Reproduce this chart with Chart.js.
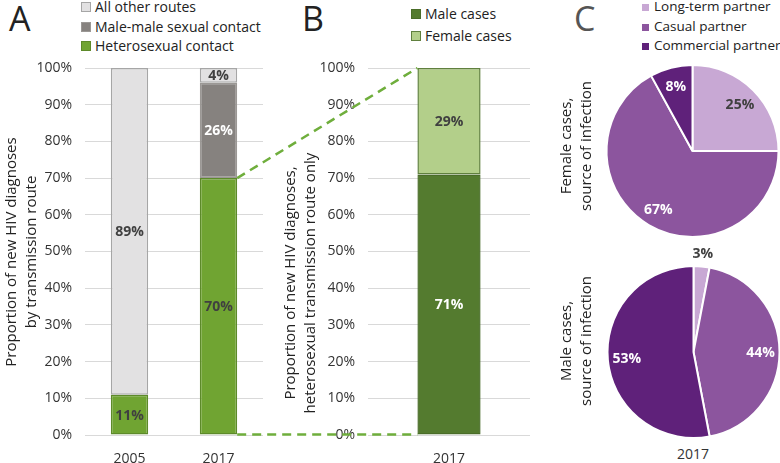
<!DOCTYPE html>
<html>
<head>
<meta charset="utf-8">
<script src="https://cdn.jsdelivr.net/npm/chart.js@4.4.1/dist/chart.umd.min.js"></script>
<style>
  body { margin: 0; width: 780px; height: 463px; position: relative; overflow: hidden; background: #fff; font-family: "Open Sans", sans-serif; color: #222; }
  canvas { position: absolute; }
  .letter { position: absolute; font-size: 34px; line-height: 34px; }
  .legend { position: absolute; font-size: 14px; }
  .legend div { white-space: nowrap; }
  .legend .box { display: inline-block; width: 8px; height: 8px; margin-right: 4px; border: 1px solid; vertical-align: 0px; }
  #legendC { font-size: 13.5px; }
  #legendC .box { width: 7px; height: 7px; border: none; margin-right: 5px; }
  .caption { position: absolute; font-size: 14px; color: #333; width: 60px; text-align: center; }
</style>
</head>
<body>
<div class="letter" style="left:9px; top:1px;">A</div>
<div class="letter" style="left:302px; top:1px;">B</div>
<div class="letter" style="left:574px; top:1px; color:#555;">C</div>
<div class="legend" id="legendA" style="left:81px; top:-3px; line-height:19.5px;"></div>
<div class="legend" id="legendB" style="left:411px; top:3px; line-height:22px;"></div>
<div class="legend" id="legendC" style="left:642px; top:-3px; line-height:19.5px;"></div>
<div class="caption" style="left:663px; top:444px;">2017</div>

<canvas id="chartA" width="270" height="463" style="left:0; top:0;"></canvas>
<canvas id="chartB" width="270" height="463" style="left:270px; top:0;"></canvas>
<canvas id="pieFemale" width="240" height="200" style="left:540px; top:55px;"></canvas>
<canvas id="pieMale" width="241" height="223" style="left:540px; top:240px;"></canvas>
<canvas id="links" width="780" height="463" style="left:0; top:0; pointer-events:none;"></canvas>

<script>
// panel A: new diagnoses by transmission route
const routeYears = ['2005', '2017'];
const heteroShare = [11, 70];
const msmShare = [null, 26];
const otherShare = [89, 4];

// panel B: heterosexual cases by sex
const sexYears = ['2017'];
const maleShare = [71];
const femaleShare = [29];

// panel C: source of infection
const partnerTypes = ['Long-term partner', 'Casual partner', 'Commercial partner'];
const femalePartners = [25, 67, 8];
const malePartners = [3, 44, 53];

const partnerColors = ['#c8a8d4', '#8c559e', '#5f217a'];
const darkText = '#404040';

Chart.defaults.font.family = '"Open Sans", sans-serif';
Chart.defaults.font.size = 14;
Chart.defaults.color = '#333';
Chart.defaults.animation = false;
Chart.defaults.plugins.legend.display = false;
Chart.defaults.plugins.tooltip.enabled = false;

// percent labels inside bars / slices
const pctLabels = {
  id: 'pctLabels',
  afterDatasetsDraw(chart) {
    const ctx = chart.ctx;
    ctx.save();
    ctx.font = 'bold 14px "Open Sans"';
    ctx.textAlign = 'center';
    ctx.textBaseline = 'middle';
    chart.data.datasets.forEach((ds, i) => {
      const meta = chart.getDatasetMeta(i);
      meta.data.forEach((el, j) => {
        const v = ds.data[j];
        if (!v) return;
        let x, y;
        if (meta.type === 'pie') {
          const mid = (el.startAngle + el.endAngle) / 2;
          const r = v < 5 ? el.outerRadius * 1.16 : el.outerRadius * 0.78;
          x = el.x + Math.cos(mid) * r;
          y = el.y + Math.sin(mid) * r;
        } else {
          const p = el.getCenterPoint();
          x = p.x; y = p.y;
        }
        let c = ds.labelColors;
        if (Array.isArray(c)) c = c[j];
        if (meta.type === 'pie' && v < 5) c = darkText;
        ctx.fillStyle = c;
        ctx.fillText(v + '%', x, y + 1);
      });
    });
    ctx.restore();
  }
};

// rotated multi-line axis titles
const sideTitle = {
  id: 'sideTitle',
  afterDraw(chart, args, opts) {
    if (!opts.lines) return;
    const ctx = chart.ctx;
    ctx.save();
    ctx.font = '15px "Open Sans"';
    ctx.fillStyle = '#222';
    ctx.textAlign = 'center';
    ctx.textBaseline = 'middle';
    ctx.translate(opts.x, opts.y);
    ctx.rotate(-Math.PI / 2);
    opts.lines.forEach((t, i) => ctx.fillText(t, 0, i * 20));
    ctx.restore();
  }
};

function barOptions(yWidth, right, barPct, title) {
  return {
    responsive: false,
    layout: { padding: { top: 68, right: right } },
    datasets: { bar: { barPercentage: 1, categoryPercentage: barPct, borderWidth: 1.5, borderSkipped: false } },
    scales: {
      x: {
        stacked: true,
        grid: { display: false },
        border: { display: false },
        ticks: { padding: 8 },
        afterFit: s => { s.height = 28; }
      },
      y: {
        stacked: true,
        min: 0,
        max: 100,
        ticks: { stepSize: 10, padding: 13, callback: v => v + '%' },
        grid: { color: '#d9d9d9', drawTicks: false },
        border: { display: false },
        afterFit: s => { s.width = yWidth; }
      }
    },
    plugins: { sideTitle: title }
  };
}

const chartA = new Chart(document.getElementById('chartA'), {
  type: 'bar',
  data: {
    labels: routeYears,
    datasets: [
      { label: 'Heterosexual contact', data: heteroShare, backgroundColor: '#70a432', borderColor: '#5d8a2a', labelColors: darkText },
      { label: 'Male-male sexual contact', data: msmShare, backgroundColor: '#86827f', borderColor: '#9b9895', labelColors: '#fff' },
      { label: 'All other routes', data: otherShare, backgroundColor: '#e2e1e2', borderColor: '#a6a6a6', labelColors: darkText }
    ]
  },
  options: barOptions(85, 7, 0.42, { lines: ['Proportion of new HIV diagnoses', 'by transmission route'], x: 12, y: 252 }),
  plugins: [pctLabels, sideTitle]
});

const chartB = new Chart(document.getElementById('chartB'), {
  type: 'bar',
  data: {
    labels: sexYears,
    datasets: [
      { label: 'Male cases', data: maleShare, backgroundColor: '#547b2f', borderColor: '#4a6d29', labelColors: '#fff' },
      { label: 'Female cases', data: femaleShare, backgroundColor: '#b3cf8a', borderColor: '#60803f', labelColors: darkText }
    ]
  },
  options: barOptions(98, 10, 0.39, { lines: ['Proportion of new HIV diagnoses,', 'heterosexual transmission route only'], x: 21, y: 283 }),
  plugins: [pctLabels, sideTitle]
});

function partnerPie(id, values, pad, title) {
  return new Chart(document.getElementById(id), {
    type: 'pie',
    data: {
      labels: partnerTypes,
      datasets: [{ data: values, backgroundColor: partnerColors, borderColor: '#fff', borderWidth: 2, labelColors: [darkText, '#fff', '#fff'] }]
    },
    options: {
      responsive: false,
      layout: { padding: pad },
      plugins: { sideTitle: title }
    },
    plugins: [pctLabels, sideTitle]
  });
}

partnerPie('pieFemale', femalePartners, { left: 65.5, right: 0.5, top: 9, bottom: 17 },
  { lines: ['Female cases,', 'source of infection'], x: 27, y: 91 });
partnerPie('pieMale', malePartners, { left: 66.5, right: 0.5, top: 25, bottom: 24 },
  { lines: ['Male cases,', 'source of infection'], x: 27, y: 101 });

// html legends
function legend(id, items, colors, borders) {
  const el = document.getElementById(id);
  el.innerHTML = items.map((t, i) =>
    '<div><span class="box" style="background:' + colors[i] + ';border-color:' + borders[i] + '"></span>' + t + '</div>'
  ).join('');
}
const dsA = chartA.data.datasets.slice().reverse();
legend('legendA', dsA.map(d => d.label), dsA.map(d => d.backgroundColor), dsA.map(d => d.borderColor));
const dsB = chartB.data.datasets;
legend('legendB', dsB.map(d => d.label), dsB.map(d => d.backgroundColor), dsB.map(d => d.borderColor));
legend('legendC', partnerTypes, partnerColors, partnerColors);

// dashed connectors from 2017 heterosexual bar in A to bar in B
const barA = chartA.getDatasetMeta(0).data[1];
const barBbottom = chartB.getDatasetMeta(0).data[0];
const barBtop = chartB.getDatasetMeta(1).data[0];
const offsetB = 270;
const ax = barA.x + barA.width / 2;
const bx = offsetB + barBtop.x - barBtop.width / 2;
const lctx = document.getElementById('links').getContext('2d');
lctx.strokeStyle = '#6fae3c';
lctx.lineWidth = 2.5;
lctx.setLineDash([9, 6]);
lctx.beginPath();
lctx.moveTo(ax, barA.y);
lctx.lineTo(bx, barBtop.y);
lctx.moveTo(ax, barA.base);
lctx.lineTo(bx, barBbottom.base);
lctx.stroke();
</script>
</body>
</html>
